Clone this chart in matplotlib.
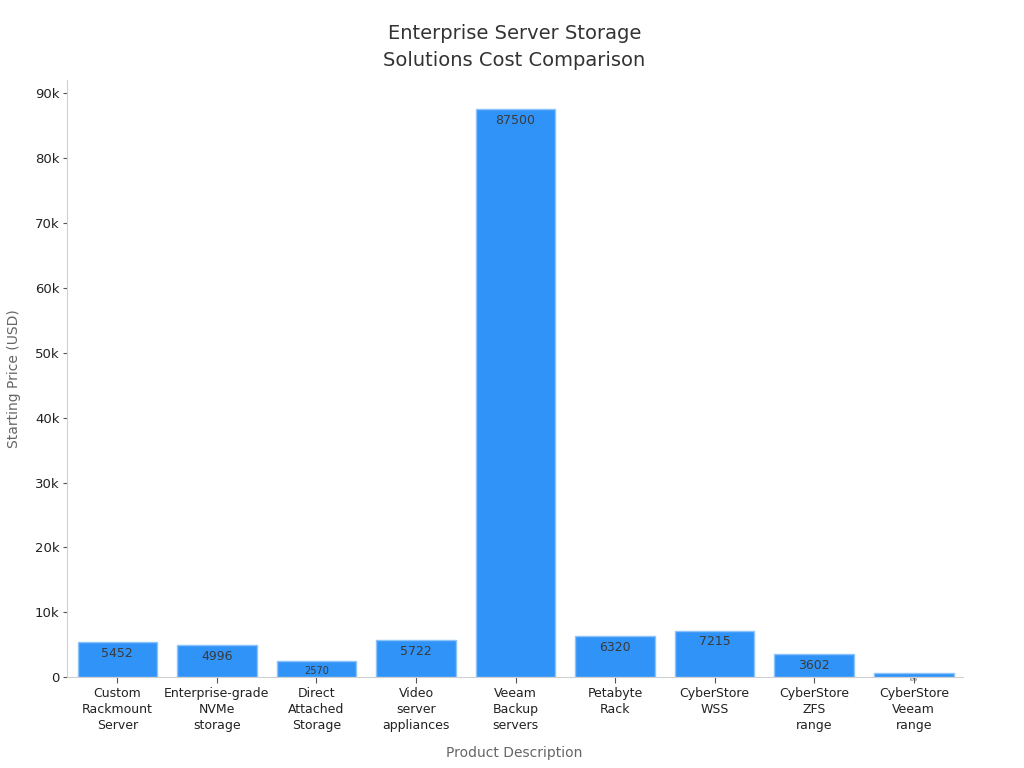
import matplotlib
matplotlib.use("Agg")
import matplotlib.pyplot as plt
from matplotlib.ticker import FuncFormatter

products = ["Custom\nRackmount\nServer", "Enterprise-grade\nNVMe\nstorage",
            "Direct\nAttached\nStorage", "Video\nserver\nappliances",
            "Veeam\nBackup\nservers", "Petabyte\nRack", "CyberStore\nWSS",
            "CyberStore\nZFS\nrange", "CyberStore\nVeeam\nrange"]
prices = [5452, 4996, 2570, 5722, 87500, 6320, 7215, 3602, 679]
label_sizes = [9, 9, 7, 9, 9, 9, 9, 9, 3]

BLUE = "#3093f8"
EDGE = "#8cc3fb"
INK = "#333333"
GRAY = "#666666"
SPINE = "#d0d0d0"

fig = plt.figure(figsize=(10.24, 7.68), dpi=100)
ax = fig.add_axes([0.065, 0.118, 0.875, 0.778])

x = range(len(products))
bars = ax.bar(x, prices, width=0.8, color=BLUE, edgecolor=EDGE, linewidth=1)
for b, v, fs in zip(bars, prices, label_sizes):
    ax.annotate(f"{v}", (b.get_x() + b.get_width() / 2, v),
                xytext=(0, -3.5), textcoords="offset points",
                ha="center", va="top", fontsize=fs, color="#3a3a3a")

ax.set_xlim(-0.51, 8.49)
ax.set_ylim(0, 92000)
ax.set_yticks(range(0, 90001, 10000))
ax.yaxis.set_major_formatter(
    FuncFormatter(lambda v, _: "0" if v == 0 else f"{int(v / 1000)}k"))
ax.set_xticks(list(x))
ax.set_xticklabels(products, fontsize=9, color="#222222", linespacing=1.3)
ax.tick_params(axis="y", labelsize=9.5, labelcolor="#222222", length=3,
               pad=2, color="#555555")
ax.tick_params(axis="x", length=4, pad=3, color="#555555")

for s in ("top", "right"):
    ax.spines[s].set_visible(False)
for s in ("left", "bottom"):
    ax.spines[s].set_color(SPINE)

ax.set_xlabel("Product Description", fontsize=10, color=GRAY, labelpad=10)
ax.set_ylabel("Starting Price (USD)", fontsize=10, color=GRAY, labelpad=10)
ax.set_title("Enterprise Server Storage\nSolutions Cost Comparison",
             fontsize=14, color=INK, pad=10, linespacing=1.5)

fig.savefig("out.png", dpi=100)
